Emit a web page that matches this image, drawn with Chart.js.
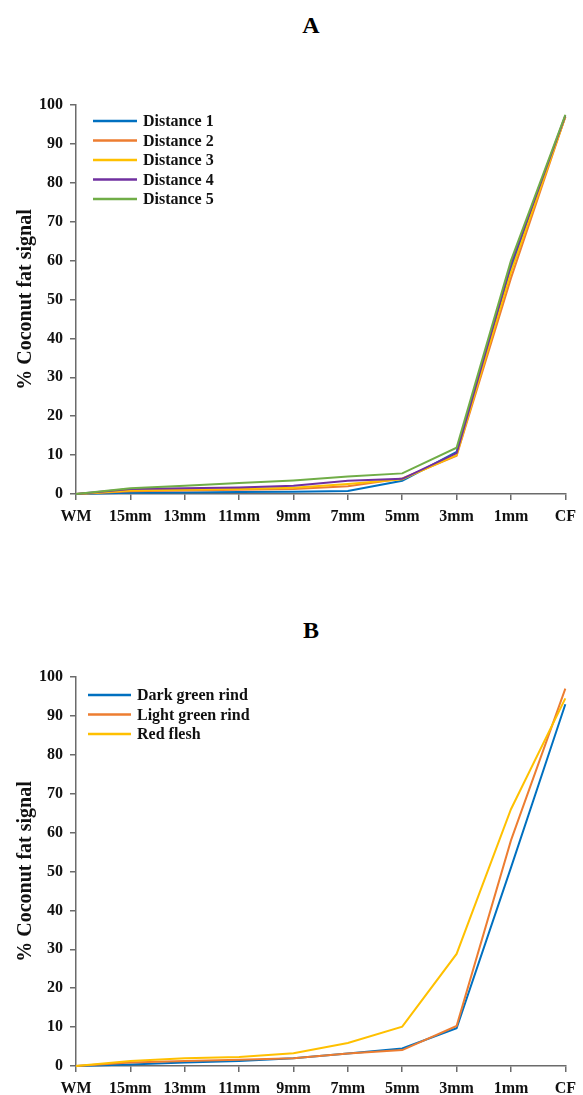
<!DOCTYPE html>
<html>
<head>
<meta charset="utf-8">
<script src="https://cdn.jsdelivr.net/npm/chart.js@4.4.1/dist/chart.umd.min.js"></script>
<style>
  body { margin: 0; background: #fff; width: 583px; height: 1095px; position: relative; overflow: hidden; }
  .panel-title { position: absolute; width: 60px; margin-left: -30px; text-align: center;
    font: bold 24px "Liberation Serif", "Times New Roman", serif; color: #000; line-height: 24px; }
  .box { position: absolute; left: 0; width: 583px; }
</style>
</head>
<body>
<div class="panel-title" style="left:311px; top:13px;">A</div>
<div class="box" style="top:0; height:560px;"><canvas id="chart-a"></canvas></div>
<div class="panel-title" style="left:311px; top:618px;">B</div>
<div class="box" style="top:572px; height:523px;"><canvas id="chart-b"></canvas></div>

<script>
// Data
const categories = ['WM', '15mm', '13mm', '11mm', '9mm', '7mm', '5mm', '3mm', '1mm', 'CF'];

const distance1 = [0, 0.3, 0.4, 0.5, 0.6, 0.8, 3.4, 10.8, 58, 97];
const distance2 = [0, 0.7, 0.9, 1.1, 1.3, 2.0, 4.0, 9.8, 55.5, 97];
const distance3 = [0, 0.9, 1.1, 1.3, 1.6, 2.6, 3.8, 10.0, 57, 97];
const distance4 = [0, 1.3, 1.5, 1.7, 2.1, 3.4, 3.9, 10.5, 59, 97.3];
const distance5 = [0, 1.5, 2.1, 2.8, 3.5, 4.5, 5.3, 11.9, 60, 97.5];

const darkGreenRind = [0, 0.4, 0.9, 1.3, 2.0, 3.2, 4.5, 9.7, 51, 93];
const lightGreenRind = [0, 0.9, 1.3, 1.6, 2.0, 3.2, 4.1, 10.3, 58, 97];
const redFlesh = [0, 1.3, 2.0, 2.3, 3.3, 5.9, 10.1, 28.8, 66, 94.5];

const yTicks = [0, 10, 20, 30, 40, 50, 60, 70, 80, 90, 100];
const yTitle = '% Coconut fat signal';

const blue = '#0070C0', orange = '#ED7D31', yellow = '#FFC000', purple = '#7030A0', green = '#70AD47';
const axisColor = '#6b6b6b';

Chart.defaults.font.family = '"Liberation Serif", "Times New Roman", serif';
Chart.defaults.color = '#111';

// legend drawn inside the plot area, like the original
const insideLegend = {
    id: 'insideLegend',
    afterDraw(chart, args, opts) {
        const ctx = chart.ctx;
        const area = chart.chartArea;
        ctx.save();
        ctx.font = 'bold 16px "Liberation Serif", "Times New Roman", serif';
        ctx.textBaseline = 'middle';
        ctx.lineWidth = 2.5;
        chart.data.datasets.forEach(function (ds, i) {
            const y = area.top + opts.top + i * opts.gap;
            const x = area.left + opts.left;
            ctx.strokeStyle = ds.borderColor;
            ctx.beginPath();
            ctx.moveTo(x, y);
            ctx.lineTo(x + opts.lineLen, y);
            ctx.stroke();
            ctx.fillStyle = '#111';
            ctx.fillText(ds.label, x + opts.lineLen + 6, y + 1);
        });
        ctx.restore();
    }
};

function makeDatasets(labels, series, colors) {
    return series.map(function (values, i) {
        return {
            label: labels[i],
            data: values,
            borderColor: colors[i],
            backgroundColor: colors[i],
            borderWidth: 2,
            pointRadius: 0,
            tension: 0,
            clip: 4,
            order: series.length - i
        };
    });
}

function makeOptions(xHeight, legendOpts) {
    return {
        responsive: true,
        maintainAspectRatio: false,
        animation: false,
        layout: { padding: { top: 105, right: 14, left: 0, bottom: 0 } },
        plugins: {
            legend: { display: false },
            tooltip: { enabled: false },
            insideLegend: legendOpts
        },
        scales: {
            x: {
                grid: { display: true, drawOnChartArea: false, drawTicks: true, tickLength: 6, color: axisColor, lineWidth: 1.5 },
                border: { display: true, color: axisColor, width: 1.5 },
                ticks: { font: { size: 16, weight: 'bold' }, color: '#111', padding: 7, maxRotation: 0, autoSkip: false },
                afterFit: function (s) { s.height = xHeight; }
            },
            y: {
                min: 0,
                max: 100,
                afterBuildTicks: function (s) { s.ticks = yTicks.map(function (v) { return { value: v }; }); },
                grid: { display: true, drawOnChartArea: false, drawTicks: true, tickLength: 6, color: axisColor, lineWidth: 1.5 },
                border: { display: true, color: axisColor, width: 1.5 },
                ticks: { font: { size: 16, weight: 'bold' }, color: '#111', padding: 7 },
                title: { display: true, text: yTitle, font: { size: 20, weight: 'bold' }, color: '#111', padding: { top: 14, bottom: 0 } },
                afterFit: function (s) { s.width = 76; }
            }
        }
    };
}

var chartA = new Chart(document.getElementById('chart-a').getContext('2d'), {
    type: 'line',
    data: {
        labels: categories,
        datasets: makeDatasets(
            ['Distance 1', 'Distance 2', 'Distance 3', 'Distance 4', 'Distance 5'],
            [distance1, distance2, distance3, distance4, distance5],
            [blue, orange, yellow, purple, green])
    },
    options: makeOptions(66, { top: 16, gap: 19.5, left: 17, lineLen: 44 }),
    plugins: [insideLegend]
});

var chartB = new Chart(document.getElementById('chart-b').getContext('2d'), {
    type: 'line',
    data: {
        labels: categories,
        datasets: makeDatasets(
            ['Dark green rind', 'Light green rind', 'Red flesh'],
            [darkGreenRind, lightGreenRind, redFlesh],
            [blue, orange, yellow])
    },
    options: makeOptions(29, { top: 18, gap: 19.5, left: 12, lineLen: 43 }),
    plugins: [insideLegend]
});
</script>
</body>
</html>
